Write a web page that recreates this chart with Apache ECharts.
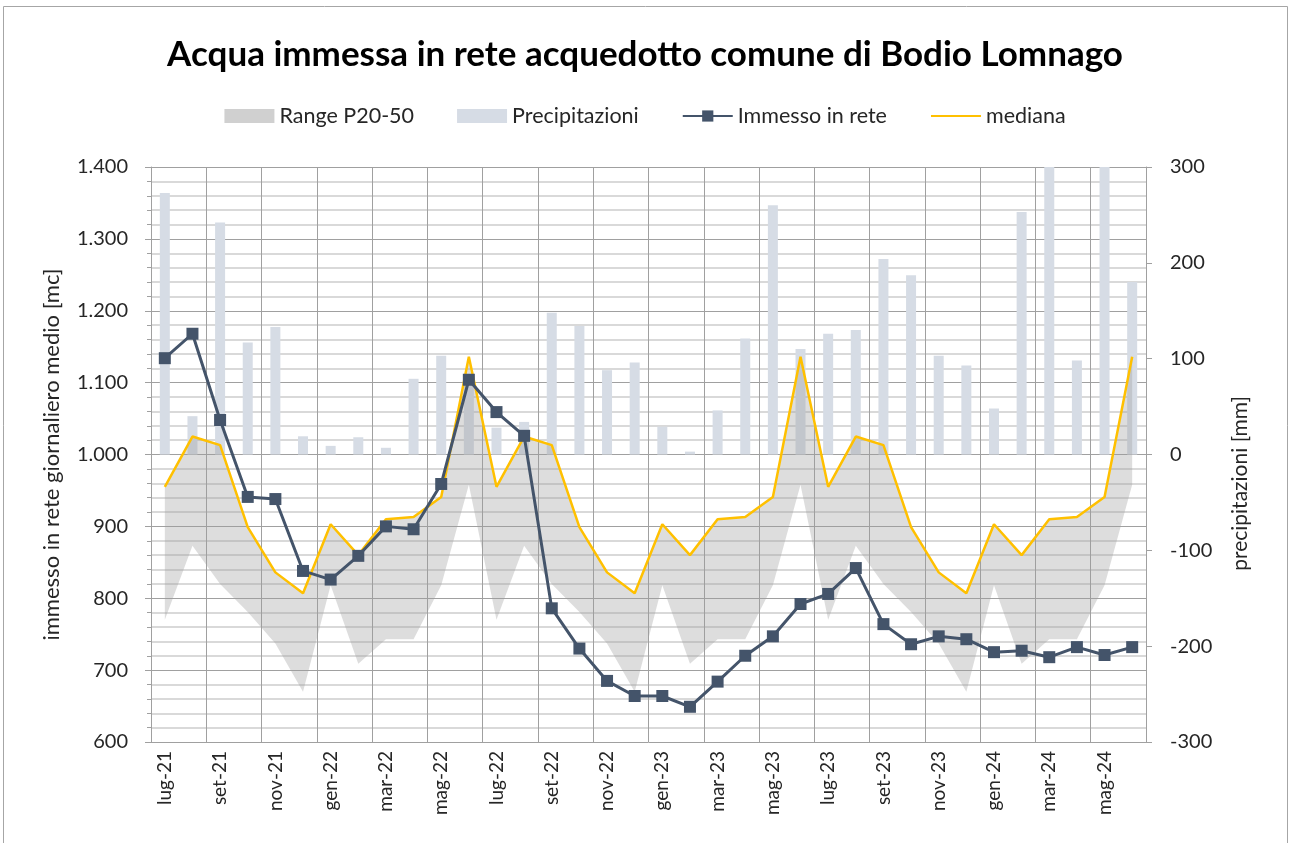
<!DOCTYPE html>
<html>
<head>
<meta charset="utf-8">
<script src="https://cdn.jsdelivr.net/npm/echarts@6/dist/echarts.min.js"></script>
<style>
html, body { margin: 0; padding: 0; background: #fff; }
#main { width: 1290px; height: 843px; }
</style>
</head>
<body>
<div id="main"></div>
<script>
// months lug-21 .. giu-24
var mesi = ['lug-21','ago-21','set-21','ott-21','nov-21','dic-21',
    'gen-22','feb-22','mar-22','apr-22','mag-22','giu-22',
    'lug-22','ago-22','set-22','ott-22','nov-22','dic-22',
    'gen-23','feb-23','mar-23','apr-23','mag-23','giu-23',
    'lug-23','ago-23','set-23','ott-23','nov-23','dic-23',
    'gen-24','feb-24','mar-24','apr-24','mag-24','giu-24'];

var immesso = [1134,1168,1048,941,938,838,826,859,900,896,959,1104,
    1059,1026,786,730,685,664,664,649,684,720,747,792,
    806,842,764,736,747,743,725,727,718,732,721,732];

var mediana = [955,1025,1013,899,836,807,903,860,910,913,941,1136,
    955,1025,1013,899,836,807,903,860,910,913,941,1136,
    955,1025,1013,899,836,807,903,860,910,913,941,1136];

var p20 = [770,873,820,781,737,670,818,709,743,743,818,958,
    770,873,820,781,737,670,818,709,743,743,818,958,
    770,873,820,781,737,670,818,709,743,743,818,958];

var precipitazioni = [273,40,242,117,133,19,9,18,7,79,103,80,
    28,34,148,134,88,96,29,3,46,121,260,110,
    126,130,204,187,103,93,48,253,330,98,330,180];

// band thickness between P20 and P50
var banda = mediana.map(function (v, i) { return v - p20[i]; });

var txt = '#262626';
var font = 'Lato';

var dom = document.getElementById('main');
var myChart = echarts.init(dom);
var option = {
    backgroundColor: '#fff',
    animation: false,
    textStyle: { fontFamily: font },
    title: {
        text: 'Acqua immessa in rete acquedotto comune di Bodio Lomnago',
        left: 'center',
        top: 32,
        textStyle: { fontFamily: font, fontSize: 35, fontWeight: 'bold', color: '#000' }
    },
    legend: {
        top: 100,
        left: 'center',
        itemWidth: 50,
        itemHeight: 14,
        itemGap: 43,
        textStyle: { fontFamily: font, fontSize: 21.5, color: txt },
        data: [
            { name: 'Range P20-50', icon: 'rect' },
            { name: 'Precipitazioni', icon: 'rect' },
            { name: 'Immesso in rete' },
            { name: 'mediana', itemStyle: { opacity: 0 } }
        ]
    },
    grid: { left: 151, right: 144, top: 167, bottom: 101 },
    xAxis: {
        type: 'category',
        data: mesi,
        boundaryGap: true,
        axisLine: { lineStyle: { color: '#a0a0a0', width: 1 } },
        axisTick: { interval: 1, length: 7, lineStyle: { color: '#a0a0a0' } },
        axisLabel: { interval: 1, rotate: 90, margin: 9, fontSize: 19, color: txt, fontFamily: font },
        splitLine: { show: true, interval: 1, lineStyle: { color: '#a0a0a0', width: 1 } }
    },
    yAxis: [
        {
            type: 'value',
            min: 600,
            max: 1400,
            interval: 100,
            name: 'immesso in rete giornaliero medio [mc]',
            nameLocation: 'middle',
            nameGap: 88,
            nameTextStyle: { fontFamily: font, fontSize: 22, color: txt },
            axisLine: { show: true, lineStyle: { color: '#a0a0a0' } },
            axisTick: { show: true, length: 6, lineStyle: { color: '#a0a0a0' } },
            minorTick: { show: true, splitNumber: 5, length: 4, lineStyle: { color: '#a0a0a0' } },
            axisLabel: {
                margin: 23,
                fontSize: 20,
                color: txt,
                fontFamily: font,
                formatter: function (v) {
                    return String(v).replace(/\B(?=(\d{3})+(?!\d))/g, '.');
                }
            },
            splitLine: { show: true, lineStyle: { color: '#a0a0a0', width: 1 } },
            minorSplitLine: { show: true, lineStyle: { color: '#d9d9d9', width: 2 } }
        },
        {
            type: 'value',
            min: -300,
            max: 300,
            interval: 100,
            name: 'precipitazioni [mm]',
            nameLocation: 'middle',
            nameGap: 84,
            nameTextStyle: { fontFamily: font, fontSize: 21, color: txt, padding: [0, 58, 0, 0] },
            axisLine: { show: true, lineStyle: { color: '#a0a0a0' } },
            axisTick: { show: true, length: 6, lineStyle: { color: '#a0a0a0' } },
            axisLabel: { margin: 24, fontSize: 20, color: txt, fontFamily: font },
            splitLine: { show: false }
        }
    ],
    series: [
        {
            name: 'Precipitazioni',
            type: 'bar',
            yAxisIndex: 1,
            barWidth: 10,
            itemStyle: { color: '#d6dce5' },
            data: precipitazioni
        },
        {
            name: 'p20',
            type: 'line',
            stack: 'range',
            symbol: 'none',
            lineStyle: { opacity: 0 },
            data: p20
        },
        {
            name: 'Range P20-50',
            type: 'line',
            stack: 'range',
            symbol: 'none',
            itemStyle: { color: '#d0d0d0' },
            lineStyle: { opacity: 0 },
            areaStyle: { color: 'rgba(160,160,160,0.5)' },
            data: banda
        },
        {
            name: 'mediana',
            type: 'line',
            symbol: 'none',
            itemStyle: { color: '#ffc000' },
            lineStyle: { color: '#ffc000', width: 2.5 },
            data: mediana
        },
        {
            name: 'Immesso in rete',
            type: 'line',
            symbol: 'rect',
            symbolSize: 12,
            itemStyle: { color: '#44546a' },
            lineStyle: { color: '#44546a', width: 3 },
            data: immesso
        }
    ],
    graphic: [
        {
            type: 'rect',
            shape: { x: 3.5, y: 6.5, width: 1284, height: 850 },
            style: { fill: 'none', stroke: '#a6a6a6', lineWidth: 1 },
            silent: true
        }
    ]
};

if (option && typeof option === "object") {
    myChart.setOption(option, true);
}
</script>
</body>
</html>
